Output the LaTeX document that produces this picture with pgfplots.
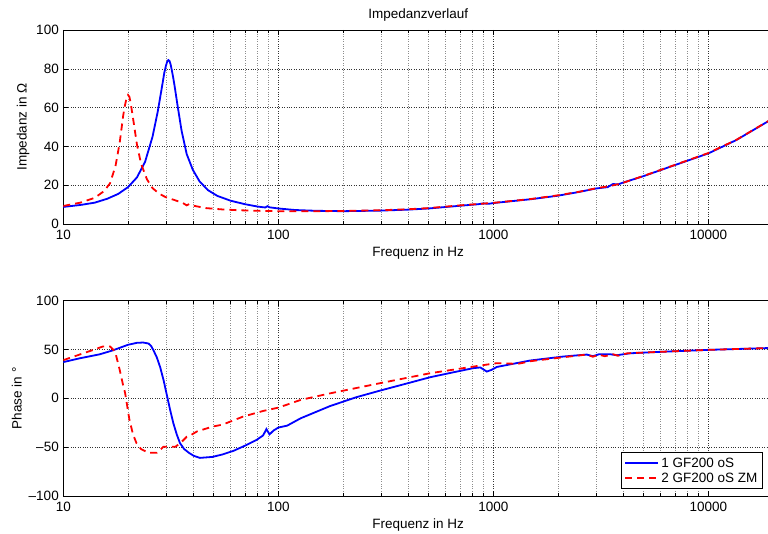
\documentclass[border=0pt]{standalone}
\usepackage{fontspec}
\setmainfont{Liberation Sans}
\usepackage{pgfplots}
\pgfplotsset{compat=1.18}
\definecolor{mblue}{RGB}{0,0,255}
\definecolor{mred}{RGB}{255,0,0}

\pgfplotsset{
  mstyle/.style={
    scale only axis, width=709.8pt,
    xmin=10, xmax=20000,
    xtick={10,100,1000,10000}, xticklabels={10,100,1000,10000},
    minor xtick={20,30,40,50,60,70,80,90,200,300,400,500,600,700,800,900,
      2000,3000,4000,5000,6000,7000,8000,9000,20000},
    grid=both,
    major grid style={dotted, black!80, line width=0.5pt},
    minor grid style={dotted, black!45, line width=0.5pt},
    tick align=inside, major tick length=5pt, minor tick length=3pt,
    tick style={black, line width=0.5pt},
    axis line style={line width=0.8pt},
    /pgf/number format/assume math mode=true,
    tick label style={font=\fontsize{13.5}{15}\selectfont},
    xticklabel style={yshift=-3pt},
    yticklabel style={xshift=-1pt},
    label style={font=\fontsize{13.5}{15}\selectfont},
    xlabel={Frequenz in Hz},
    xlabel style={yshift=0pt},
    every axis plot/.append style={line width=1.8pt},
    mdash/.style={dash pattern=on 7pt off 5pt},
  }
}

\begin{document}
\begin{tikzpicture}
\useasboundingbox (0,0) rectangle (768pt,533pt);

% Impedanz
\begin{semilogxaxis}[mstyle,
  at={(63.3pt,309pt)}, anchor=south west, height=194pt,
  ymin=0, ymax=100, ytick={0,20,40,60,80,100},
  ylabel={Impedanz in Ω},
  title={Impedanzverlauf},
  title style={font=\fontsize{13.5}{15}\selectfont, yshift=-1pt},
]
\addplot[mblue, solid] coordinates {
 (10,8.8) (12,9.8) (14,11) (16,13) (18,15.5) (20,19) (22,24) (24,32) (26,45)
 (27.5,58) (29,73) (29.5,78) (30,81.5) (30.4,83.6) (30.8,84.5) (31.2,84)
 (31.6,82) (32,79) (32.5,75) (33,70.5) (34,61) (35.5,48)
 (37.5,36) (40,28) (43,22) (47,17.5) (52,14.5) (60,12) (70,10.2) (80,9)
 (87,8.5) (89,9.2) (91,8.6) (100,8) (120,7.2) (150,6.8) (200,6.6) (300,6.9)
 (400,7.4) (500,8) (700,9.4) (850,10.2) (900,10.6) (950,10.4) (1000,10.8)
 (1500,12.8) (2000,14.6) (2500,16.5) (3000,18.3) (3400,19) (3600,20.6)
 (3800,20.4) (4000,21.3) (5000,24.7) (7000,30.4) (10000,36.4) (13500,43.3)
 (19000,53) (20000,54.5)
};
\addplot[mred, mdash] coordinates {
 (10,9.3) (12,11) (14,13.5) (15.5,17) (16.5,21) (17.5,30) (18.3,42) (19,56)
 (19.3,60.5) (19.7,65) (20,66.5) (20.3,65.5) (20.6,62) (21.2,53) (22,41)
 (23,31) (24.5,23) (26,18.5)
 (28,15.5) (30,13.8) (33,12.3) (36,10.8) (37.5,9.6) (38.5,10.3) (40,9.5)
 (46,8.2) (55,7.5) (65,7.1) (80,6.8) (100,6.6) (150,6.6) (200,6.7) (300,7.1)
 (400,7.6) (500,8.2) (700,9.6) (1000,10.9) (1500,12.9) (2000,14.8)
 (2500,16.6) (3000,18.4) (3500,19.6) (3800,20.5) (4000,21.2) (5000,24.8)
 (7000,30.5) (10000,36.6) (13500,43.4) (20000,54.5)
};
\end{semilogxaxis}

% Phase
\begin{semilogxaxis}[mstyle,
  at={(63.3pt,37pt)}, anchor=south west, height=195.5pt,
  ymin=-100, ymax=100, ytick={-100,-50,0,50,100},
  yticklabels={--100,--50,0,50,100},
  ylabel={Phase in °},
  legend cell align=left,
  legend style={at={(axis description cs:0.9854,0.036)}, anchor=south east,
    draw=black, line width=0.8pt, font=\fontsize{13.5}{15}\selectfont,
    inner sep=3pt, row sep=0pt},
  legend image code/.code={\draw[#1] (0pt,0pt) -- (33pt,0pt);},
]
\addplot[mblue, solid] coordinates {
 (10,37) (12,41) (14.8,45) (17,49) (20,54.7) (22,56.7) (23.5,57) (24.9,56)
 (25.6,53.5) (26.2,49.5) (27.2,42) (28.2,32) (29.3,18) (30.3,3.4) (31.4,-12)
 (32.5,-25.6) (33.7,-37) (34.9,-46) (36.5,-52) (38.5,-56) (40.5,-59)
 (43.2,-61) (49.4,-60) (55,-57.5)
 (62,-53.7) (70,-48.5) (79,-42.8) (85,-38) (88,-31.5) (91,-37) (95,-33)
 (100,-30) (110,-28) (127,-20.5) (174,-8) (230,1) (297,7.8) (410,16)
 (508,21.5) (650,26.5) (807,30.8) (870,31.5) (932,27.3) (980,29) (1037,32)
 (1483,38.6) (2119,42.7) (2720,44.7) (2900,43) (3100,45) (3500,45)
 (3750,44) (4325,46) (6000,47.5) (10000,49.5) (20000,51.5)
};
\addplot[mred, mdash] coordinates {
 (10,39) (12.4,46) (14,50) (15.3,53) (16.5,53) (17.4,48) (18.3,29) (18.9,15)
 (19.4,5) (20.3,-22) (21.1,-37) (21.9,-46) (23,-52) (24.9,-55.8) (27.2,-55.8)
 (28.2,-53) (29.2,-49.6) (31,-49.5) (33.2,-49.6) (35,-46) (37.5,-39.4)
 (39,-38) (41.8,-34) (49.4,-29) (55,-27) (68.5,-18.8) (85,-13) (100,-9.6)
 (127,-1.7) (174,5) (297,15.4) (508,25.6) (807,32.4) (1037,35.9)
 (1300,35.2) (1500,38) (2119,42) (2720,44.7) (2900,42.5) (3100,44.5)
 (3300,43) (3600,45) (3800,43.5) (4200,46) (6000,47.5) (10000,49.5)
 (20000,51.5)
};
\legend{1 GF200 oS, 2 GF200 oS ZM}
\end{semilogxaxis}
\end{tikzpicture}
\end{document}
